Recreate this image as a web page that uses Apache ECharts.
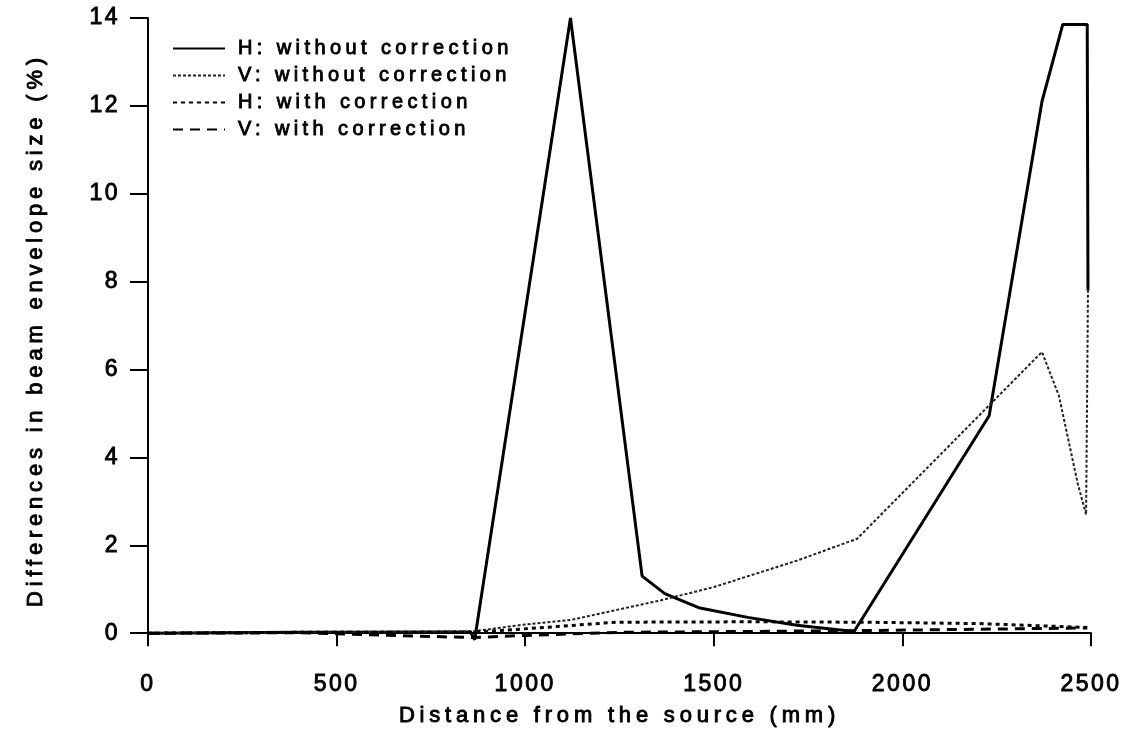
<!DOCTYPE html>
<html>
<head>
<meta charset="utf-8">
<script src="https://cdn.jsdelivr.net/npm/echarts@6/dist/echarts.min.js"></script>
<style>
html,body{margin:0;padding:0;background:#fff;}
#c{width:1135px;height:742px;}
</style>
</head>
<body>
<div id="c"></div>
<script>
// ---- data ----
const seriesNames = ['H: without correction','V: without correction','H: with correction','V: with correction'];

const hWithoutX = [0, 400, 855, 866, 1120, 1310, 1370, 1460, 1590, 1720, 1872, 2230, 2370, 2425, 2490, 2492];
const hWithoutY = [0, 0.02, 0.03, -0.15, 14.0, 1.3, 0.9, 0.58, 0.36, 0.18, 0.04, 4.95, 12.1, 13.85, 13.85, 7.8];

const vWithoutX = [0, 400, 860, 1000, 1120, 1360, 1500, 1720, 1880, 2370, 2415, 2440, 2465, 2487, 2492];
const vWithoutY = [0, 0.02, 0.04, 0.2, 0.3, 0.75, 1.05, 1.65, 2.15, 6.4, 5.4, 4.4, 3.4, 2.7, 7.8];

const hWithX = [0, 400, 860, 1000, 1240, 1600, 1900, 2200, 2490];
const hWithY = [0, 0.02, 0.02, 0.1, 0.25, 0.26, 0.25, 0.22, 0.13];

const vWithX = [0, 400, 860, 1000, 1250, 1600, 1900, 2200, 2490];
const vWithY = [0, 0.01, -0.1, -0.05, 0.02, 0.04, 0.06, 0.09, 0.12];

const xTicks = [0, 500, 1000, 1500, 2000, 2500];
const yTicks = [0, 2, 4, 6, 8, 10, 12, 14];

const xName = 'Distance from the source (mm)';
const yName = 'Differences in beam envelope size (%)';

// letter spacing like the printed original (tick labels use 23px and tighter spacing)
function spaced(ctx) {
  const mm = /(\d+(?:\.\d+)?)px/.exec(ctx.font);
  const fs = mm ? parseFloat(mm[1]) : 12;
  const sp = fs === 23 ? 2.5 : fs * 0.22;
  try { ctx.letterSpacing = sp.toFixed(1) + 'px'; } catch (e) {}
}
const _ft = CanvasRenderingContext2D.prototype.fillText;
const _st = CanvasRenderingContext2D.prototype.strokeText;
CanvasRenderingContext2D.prototype.fillText = function (t, x, y, m) {
  spaced(this);
  return m === undefined ? _ft.call(this, t, x, y) : _ft.call(this, t, x, y, m);
};
CanvasRenderingContext2D.prototype.strokeText = function (t, x, y, m) {
  spaced(this);
  return m === undefined ? _st.call(this, t, x, y) : _st.call(this, t, x, y, m);
};

const pair = (xs, ys) => xs.map((x, i) => [x, ys[i]]);
const FONT = 'Liberation Sans';
const txt = (size) => ({fontFamily: FONT, fontSize: size, color: '#000', textBorderColor: '#000', textBorderWidth: 0.9});

const chart = echarts.init(document.getElementById('c'), null, {renderer: 'canvas'});
chart.setOption({
  animation: false,
  backgroundColor: '#fff',
  grid: {left: 148, right: 44, top: 18, bottom: 100, containLabel: false},
  legend: {
    orient: 'vertical', left: 172, top: 38, padding: 0,
    itemWidth: 52, itemHeight: 14, itemGap: 6,
    itemStyle: {opacity: 0},
    textStyle: Object.assign(txt(20), {lineHeight: 21, padding: [0, 0, 0, 8]}),
    data: seriesNames
  },
  xAxis: {
    type: 'value', min: xTicks[0], max: xTicks[xTicks.length - 1], interval: 500,
    name: xName, nameLocation: 'middle', nameGap: 63,
    nameTextStyle: txt(22),
    axisLine: {lineStyle: {color: '#000', width: 2}},
    axisTick: {length: 13, lineStyle: {color: '#000', width: 2}},
    axisLabel: Object.assign(txt(23), {margin: 31, formatter: (v) => String(v)}),
    splitLine: {show: false}
  },
  yAxis: {
    type: 'value', min: -0.2, max: 14,
    name: yName, nameLocation: 'middle', nameGap: 101,
    nameTextStyle: txt(22),
    axisLine: {show: true, lineStyle: {color: '#000', width: 2}},
    axisTick: {show: true, length: 18, customValues: yTicks, lineStyle: {color: '#000', width: 2}},
    axisLabel: Object.assign(txt(23), {margin: 28, customValues: yTicks, formatter: (v) => String(v)}),
    splitLine: {show: false}
  },
  series: [
    {name: seriesNames[0], type: 'line', symbol: 'none', data: pair(hWithoutX, hWithoutY),
     lineStyle: {color: '#000', width: 3, type: 'solid'}, itemStyle: {color: '#000'}},
    {name: seriesNames[1], type: 'line', symbol: 'none', data: pair(vWithoutX, vWithoutY),
     lineStyle: {color: '#222', width: 2, type: [3, 2]}, itemStyle: {color: '#222'}},
    {name: seriesNames[2], type: 'line', symbol: 'none', data: pair(hWithX, hWithY),
     lineStyle: {color: '#000', width: 3, type: [4, 4]}, itemStyle: {color: '#000'}},
    {name: seriesNames[3], type: 'line', symbol: 'none', data: pair(vWithX, vWithY),
     lineStyle: {color: '#000', width: 3, type: [10, 7]}, itemStyle: {color: '#000'}}
  ]
});
</script>
</body>
</html>
